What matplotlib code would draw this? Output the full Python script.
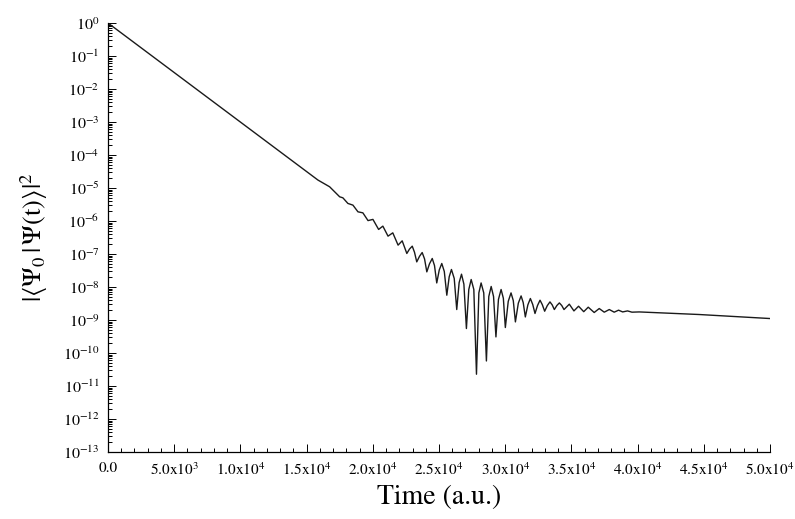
import matplotlib
matplotlib.use("Agg")
import matplotlib.pyplot as plt
from matplotlib.ticker import FixedLocator, MultipleLocator, LogLocator, NullFormatter

# survival probability |<psi0|psi(t)>|^2
# (troughs, shoulders and peaks of the oscillating part)
time_au = [
    0, 15860, 16740, 17500, 17740, 18120, 18500, 18880, 19250, 19640,
    20010, 20440, 20760, 21150, 21510, 21910, 22220, 22570, 22770, 22980,
    23150, 23320, 23530, 23730, 23910, 24080, 24280, 24490, 24660, 24830,
    25020, 25210, 25400, 25590, 25770, 25940, 26150, 26340, 26520, 26700,
    26880, 27070, 27250, 27430, 27630, 27830, 28010, 28180, 28380, 28580,
    28760, 28940, 29120, 29300, 29490, 29690, 29860, 30010, 30230, 30440,
    30610, 30770, 30990, 31200, 31360, 31520, 31710, 31900, 32080, 32250,
    32440, 32630, 32800, 32980, 33180, 33380, 33550, 33710, 33900, 34090,
    34270, 34440, 34840, 35190, 35540, 35930, 36270, 36720, 37100, 37480,
    37860, 38230, 38560, 38870, 39240, 39570, 40120, 44640, 50000,
]
overlap = [
    1.0, 1.74e-5, 1.09e-5, 5.41e-6, 5.05e-6, 3.41e-6, 3.03e-6, 1.90e-6, 1.77e-6, 1.03e-6,
    1.12e-6, 5.56e-7, 7.00e-7, 3.48e-7, 4.38e-7, 1.86e-7, 2.51e-7, 1.04e-7, 1.41e-7, 1.73e-7,
    1.13e-7, 5.78e-8, 8.55e-8, 1.11e-7, 7.08e-8, 2.88e-8, 5.03e-8, 7.33e-8, 4.47e-8, 1.33e-8,
    3.29e-8, 5.17e-8, 2.96e-8, 5.65e-9, 2.04e-8, 3.40e-8, 1.82e-8, 2.08e-9, 1.36e-8, 2.45e-8,
    1.22e-8, 5.53e-10, 8.42e-9, 1.69e-8, 8.42e-9, 2.28e-11, 6.64e-9, 1.33e-8, 6.64e-9, 5.75e-11,
    5.16e-9, 1.04e-8, 5.16e-9, 3.08e-10, 4.22e-9, 8.42e-9, 4.56e-9, 5.93e-10, 3.69e-9, 6.64e-9,
    3.88e-9, 8.77e-10, 3.24e-9, 5.38e-9, 3.37e-9, 1.24e-9, 2.87e-9, 4.49e-9, 2.95e-9, 1.58e-9,
    2.75e-9, 3.99e-9, 2.93e-9, 1.85e-9, 2.74e-9, 3.54e-9, 2.87e-9, 2.08e-9, 2.75e-9, 3.30e-9,
    2.75e-9, 2.08e-9, 3.02e-9, 1.89e-9, 2.62e-9, 1.79e-9, 2.45e-9, 1.69e-9, 2.23e-9, 1.73e-9,
    2.08e-9, 1.73e-9, 1.99e-9, 1.76e-9, 1.89e-9, 1.73e-9, 1.76e-9, 1.47e-9, 1.11e-9,
]

x_ticks = [0, 5000, 10000, 15000, 20000, 25000, 30000, 35000, 40000, 45000, 50000]
x_tick_labels = ["0.0", "5.0x10$^{3}$", "1.0x10$^{4}$", "1.5x10$^{4}$", "2.0x10$^{4}$",
                 "2.5x10$^{4}$", "3.0x10$^{4}$", "3.5x10$^{4}$", "4.0x10$^{4}$",
                 "4.5x10$^{4}$", "5.0x10$^{4}$"]
y_exponents = list(range(-13, 1))

plt.rcParams["font.family"] = ["STIXGeneral", "DejaVu Serif"]
plt.rcParams["mathtext.fontset"] = "stix"

fig = plt.figure(figsize=(7.95, 5.19), dpi=100)
ax = fig.add_axes([0.1358, 0.129, 0.8328, 0.8267])

ax.plot(time_au, overlap, color="#1a1a1a", linewidth=1.0)

ax.set_yscale("log")
ax.set_xlim(0, 50000)
ax.set_ylim(1e-13, 1.0)

ax.xaxis.set_major_locator(FixedLocator(x_ticks))
ax.set_xticklabels(x_tick_labels)
ax.xaxis.set_minor_locator(MultipleLocator(1000))

ax.yaxis.set_major_locator(FixedLocator([10.0 ** e for e in y_exponents]))
ax.set_yticklabels([f"$10^{{{e}}}$" for e in y_exponents])
ax.yaxis.set_minor_locator(LogLocator(base=10, subs=range(2, 10), numticks=30))
ax.yaxis.set_minor_formatter(NullFormatter())

for side in ("top", "right"):
    ax.spines[side].set_visible(False)
for side in ("left", "bottom"):
    ax.spines[side].set_linewidth(0.9)

ax.tick_params(which="both", direction="in", top=False, right=False, width=0.7)
ax.tick_params(which="major", length=6)
ax.tick_params(which="minor", length=3)
ax.tick_params(axis="x", labelsize=11, pad=7)
ax.tick_params(axis="y", labelsize=11.5, pad=6)

ax.set_xlabel("Time (a.u.)", fontsize=20, labelpad=5)
ax.set_ylabel(r"$|\langle\Psi_0\,|\,\Psi(\mathrm{t})\rangle|^2$", fontsize=19, labelpad=9)

fig.savefig("out.png", dpi=100)
